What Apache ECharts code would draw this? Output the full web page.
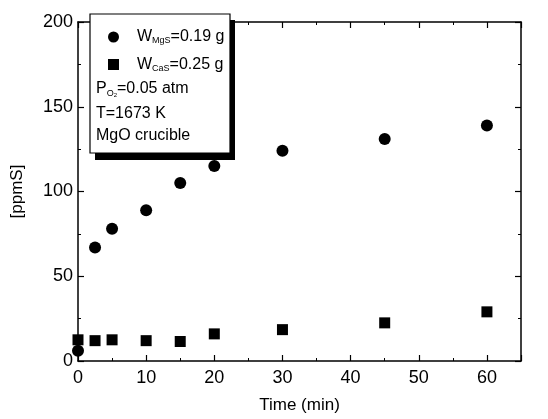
<!DOCTYPE html>
<html>
<head>
<meta charset="utf-8">
<script src="https://cdn.jsdelivr.net/npm/echarts@6/dist/echarts.min.js"></script>
<style>
  html, body { margin: 0; padding: 0; background: #fff; }
  #chart { width: 548px; height: 419px; }
</style>
</head>
<body>
<div id="chart"></div>
<script>
// time (min)
var timeMin = [0, 2.5, 5, 10, 15, 20, 30, 45, 60]
// ppm S
var mgsValues = [6, 67, 78, 89, 105, 115, 124, 131, 139]
var casValues = [12.5, 12, 12.5, 12, 11.5, 16, 18.5, 22.5, 29]

var xTicks = [0, 10, 20, 30, 40, 50, 60]
var yTicks = [0, 50, 100, 150, 200]

var font = 'Liberation Sans, Arial, sans-serif'

var pairs = function (xs, ys) {
  return xs.map(function (x, i) { return [x, ys[i]] })
}

var axisCommon = {
  axisLine: { show: true, onZero: false, lineStyle: { color: '#000', width: 1.5 } },
  axisTick: { show: true, inside: true, length: 6, lineStyle: { color: '#000', width: 1.2 } },
  minorTick: { show: true, splitNumber: 2, length: 3, lineStyle: { color: '#000' } },
  splitLine: { show: false }
}

var chart = echarts.init(document.getElementById('chart'))

chart.setOption({
  animation: false,
  grid: { left: 78, right: 27, top: 22, bottom: 53 },
  xAxis: [
    Object.assign({
      type: 'value', min: 0, max: 65, interval: 10, position: 'bottom',
      name: 'Time (min)', nameLocation: 'middle', nameGap: 36,
      nameTextStyle: { fontFamily: font, fontSize: 17, color: '#000' },
      axisLabel: {
        fontFamily: font, fontSize: 18, color: '#000', margin: 8,
        formatter: function (v) { return xTicks.indexOf(v) >= 0 ? v : '' }
      }
    }, axisCommon),
    Object.assign({
      type: 'value', min: 0, max: 65, interval: 10, position: 'top',
      axisLabel: { show: false }
    }, axisCommon)
  ],
  yAxis: [
    Object.assign({
      type: 'value', min: 0, max: 200, interval: 50, position: 'left',
      name: '[ppmS]', nameLocation: 'middle', nameGap: 52, nameRotate: 90,
      nameTextStyle: { fontFamily: font, fontSize: 17, color: '#000' },
      axisLabel: {
        fontFamily: font, fontSize: 18, color: '#000', margin: 5,
        formatter: function (v) { return yTicks.indexOf(v) >= 0 ? v : '' }
      }
    }, axisCommon),
    Object.assign({
      type: 'value', min: 0, max: 200, interval: 50, position: 'right',
      axisLabel: { show: false }
    }, axisCommon)
  ],
  legend: {
    left: 108, top: 29, padding: 0, orient: 'vertical', itemGap: 11, z: 300,
    itemWidth: 11, itemHeight: 11,
    textStyle: {
      fontFamily: font, fontSize: 16, color: '#000', padding: [0, 0, 0, 13],
      rich: {
        w: { fontFamily: font, fontSize: 16, color: '#000' },
        s: { fontFamily: font, fontSize: 9, color: '#000', verticalAlign: 'bottom', padding: [8, 0, 0, 0] }
      }
    },
    formatter: function (name) {
      if (name === 'MgS') return '{w|W}{s|MgS}{w|=0.19 g}'
      return '{w|W}{s|CaS}{w|=0.25 g}'
    },
    data: [
      { name: 'MgS', icon: 'circle' },
      { name: 'CaS', icon: 'rect' }
    ]
  },
  graphic: [
    { type: 'rect', z: 99, shape: { x: 95, y: 20, width: 140, height: 140 }, style: { fill: '#000' } },
    { type: 'rect', z: 100, shape: { x: 90, y: 14, width: 140, height: 139 }, style: { fill: '#fff', stroke: '#000', lineWidth: 1.2 } },
    {
      type: 'text', z: 101,
      style: {
        x: 96, y: 89, verticalAlign: 'middle',
        text: '{p|P}{s|O}{t|2}{p|=0.05 atm}',
        rich: {
          p: { fontFamily: font, fontSize: 16, fill: '#000' },
          s: { fontFamily: font, fontSize: 9, fill: '#000', verticalAlign: 'bottom', padding: [9, 0, 0, 0] },
          t: { fontFamily: font, fontSize: 6, fill: '#000', verticalAlign: 'bottom', padding: [13, 0, 0, 0] }
        }
      }
    },
    { type: 'text', z: 101, style: { x: 96, y: 114, verticalAlign: 'middle', text: 'T=1673 K', fontFamily: font, fontSize: 16, fill: '#000' } },
    { type: 'text', z: 101, style: { x: 96, y: 136, verticalAlign: 'middle', text: 'MgO crucible', fontFamily: font, fontSize: 16, fill: '#000' } }
  ],
  series: [
    {
      name: 'MgS', type: 'scatter', symbol: 'circle', symbolSize: 12,
      itemStyle: { color: '#000', opacity: 1 }, data: pairs(timeMin, mgsValues), z: 3
    },
    {
      name: 'CaS', type: 'scatter', symbol: 'rect', symbolSize: 11,
      itemStyle: { color: '#000', opacity: 1 }, data: pairs(timeMin, casValues), z: 2
    }
  ]
})
</script>
</body>
</html>
